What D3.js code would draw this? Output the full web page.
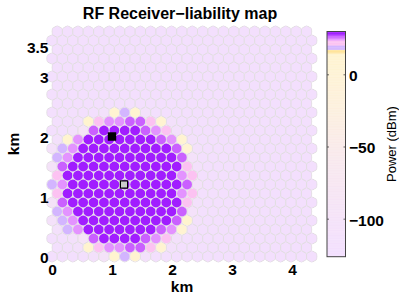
<!DOCTYPE html>
<html lang="en">
<head>
  <meta charset="UTF-8">
  <title>RF Receiver-liability map</title>
  <script src="https://d3js.org/d3.v7.min.js"></script>
  <style>
    html, body { margin: 0; padding: 0; background: #fff; overflow: hidden; }
    text { font-family: "Liberation Sans", Arial, sans-serif; fill: #000; }
    .bold text, text.bold { font-weight: bold; font-size: 15.5px; }
  </style>
</head>
<body>
  <svg id="chart" width="399" height="299"></svg>
  <script>
    // power per hex cell in dBm, rows from y = 0 upward
    const powerRows = [
      [-118,-118,-118,-118,-112,-100,12,18,9,-112,-118,-118,-118,-118,-118,-118,-118,-118,-118,-118,-118,-118,-118,-118,-118,-118],
      [-118,-118,-112,14,21,25,24.5,26,26,21,8,-112,-118,-118,-118,-118,-118,-118,-118,-118,-118,-118,-118,-118,-118],
      [-118,-118,-112,-95,26,29,29,29,29,26,25,21,-110,-118,-118,-118,-118,-118,-118,-118,-118,-118,-118,-118,-118,-118],
      [-112,19,25,29,29,29,29,29,29,29,26,24.5,8,-110,-118,-118,-118,-118,-118,-118,-118,-118,-118,-118,-118],
      [-108,19,24.5,29,29,29,29,29,29,29,29,29,26,14,-112,-118,-118,-118,-118,-118,-118,-118,-118,-118,-118,-118],
      [19,25,29,29,29,29,29,29,29,29,29,29,26,-105,-118,-118,-118,-118,-118,-118,-118,-118,-118,-118,-118],
      [-100,26,29,29,29,29,29,29,29,29,29,29,29,22,-112,-118,-118,-118,-118,-118,-118,-118,-118,-118,-118,-118],
      [22,29,29,29,29,29,29,29,29,29,29,29,24.5,22,-118,-118,-118,-118,-118,-118,-118,-118,-118,-118,-118],
      [19,25,29,29,29,29,29,29,29,29,29,29,29,26,-108,-118,-118,-118,-118,-118,-118,-118,-118,-118,-118,-118],
      [22,29,29,29,29,29,29,29,29,29,29,29,24.5,22,-118,-118,-118,-118,-118,-118,-118,-118,-118,-118,-118],
      [-100,26,29,29,29,29,29,29,29,29,29,29,29,22,-112,-118,-118,-118,-118,-118,-118,-118,-118,-118,-118,-118],
      [19,25,29,29,29,29,29,29,29,29,29,29,26,-105,-118,-118,-118,-118,-118,-118,-118,-118,-118,-118,-118],
      [-108,19,24.5,29,29,29,29,29,29,29,29,29,26,8,-112,-118,-118,-118,-118,-118,-118,-118,-118,-118,-118,-118],
      [-112,14,24.5,29,29,29,29,29,29,29,26,25,8,-110,-118,-118,-118,-118,-118,-118,-118,-118,-118,-118,-118],
      [-118,-118,-112,-95,26,29,29,29,29,26,25,21,-110,-118,-118,-118,-118,-118,-118,-118,-118,-118,-118,-118,-118,-118],
      [-118,-118,-112,14,21,25,24.5,26,26,21,8,-112,-118,-118,-118,-118,-118,-118,-118,-118,-118,-118,-118,-118,-118],
      [-118,-118,-118,-118,-118,-112,8,18,9,-112,-118,-118,-118,-118,-118,-118,-118,-118,-118,-118,-118,-118,-118,-118,-118,-118],
      [-118,-118,-118,-118,-118,-118,-118,-118,-118,-118,-118,-118,-118,-118,-118,-118,-118,-118,-118,-118,-118,-118,-118,-118,-118],
      [-118,-118,-118,-118,-118,-118,-118,-118,-118,-118,-118,-118,-118,-118,-118,-118,-118,-118,-118,-118,-118,-118,-118,-118,-118,-118],
      [-118,-118,-118,-118,-118,-118,-118,-118,-118,-118,-118,-118,-118,-118,-118,-118,-118,-118,-118,-118,-118,-118,-118,-118,-118],
      [-118,-118,-118,-118,-118,-118,-118,-118,-118,-118,-118,-118,-118,-118,-118,-118,-118,-118,-118,-118,-118,-118,-118,-118,-118,-118],
      [-118,-118,-118,-118,-118,-118,-118,-118,-118,-118,-118,-118,-118,-118,-118,-118,-118,-118,-118,-118,-118,-118,-118,-118,-118],
      [-118,-118,-118,-118,-118,-118,-118,-118,-118,-118,-118,-118,-118,-118,-118,-118,-118,-118,-118,-118,-118,-118,-118,-118,-118,-118],
      [-118,-118,-118,-118,-118,-118,-118,-118,-118,-118,-118,-118,-118,-118,-118,-118,-118,-118,-118,-118,-118,-118,-118,-118,-118],
      [-118,-118,-118,-118,-118,-118,-118,-118,-118,-118,-118,-118,-118,-118,-118,-118,-118,-118,-118,-118,-118,-118,-118,-118,-118,-118],
      [-118,-118,-118,-118,-118,-118,-118,-118,-118,-118,-118,-118,-118,-118,-118,-118,-118,-118,-118,-118,-118,-118,-118,-118,-118]
    ];
    const markers = [
      { x: 1.0, y: 2.0, fill: "#000" },
      { x: 1.2, y: 1.2, fill: "#ccc" }
    ];
    const xTicks = [0, 1, 2, 3, 4];
    const yTicks = [0, 1, 2, 3, 3.5];
    const barTicks = [0, -50, -100];
    const barDomain = [-126, 30];
    const colorStops = [-126, -60, -20, 15, 15, 17.5, 17.5, 20.6, 20.6, 24, 24, 25.5, 25.5, 27.6, 27.6, 30];
    const colorValues = ["#f2deff", "#f8e8ee", "#fdf0dc", "#fff4cf", "#ffe49c", "#ffe49c", "#d3b5ff", "#d3b5ff",
      "#fcc2f2", "#fcc2f2", "#e393ff", "#e393ff", "#ca60ff", "#ca60ff", "#a11dff", "#a11dff"];

    const svg = d3.select("#chart");

    const x = d3.scaleLinear().domain([0, 4]).range([52, 292]);
    const y = d3.scaleLinear().domain([0, 3]).range([256.5, 76.5]);
    const barY = d3.scaleLinear().domain(barDomain).range([256.7, 31.5]);
    const color = d3.scaleLinear().domain(colorStops).range(colorValues).clamp(true);

    // hex cells are 0.1 km in radius, pointy side up
    const hexR = 0.1;
    const cells = [];
    powerRows.forEach((row, r) => row.forEach((power, i) => {
      cells.push({
        x: (i + (r % 2 ? 0.5 : 0)) * hexR * Math.sqrt(3),
        y: r * hexR * 1.5,
        power: power
      });
    }));

    const pxR = x(hexR) - x(0);
    const hexPath = "M" + d3.range(6).map(k => {
      const a = Math.PI / 3 * k;
      return [pxR * Math.sin(a), -pxR * Math.cos(a)].join(",");
    }).join("L") + "Z";

    svg.append("defs").append("clipPath").attr("id", "roundCell")
      .append("circle").attr("r", pxR * 0.98);

    const cell = svg.append("g").selectAll("g")
      .data(cells)
      .enter().append("g")
      .attr("transform", d => `translate(${x(d.x)},${y(d.y)})`)
      .attr("clip-path", "url(#roundCell)");

    // hex underlay with its grey outline, round mark on top
    cell.append("path")
      .attr("d", hexPath)
      .attr("fill", d => d.power < 0 ? color(d.power) : "#f6eefa")
      .attr("stroke", "#e0dcdf")
      .attr("stroke-width", 0.9);

    cell.filter(d => d.power > 0).append("circle")
      .attr("r", pxR * 0.82)
      .attr("fill", d => color(d.power));

    svg.append("g").selectAll("rect")
      .data(markers)
      .enter().append("rect")
      .attr("x", d => x(d.x) - 3.6)
      .attr("y", d => y(d.y) - 3.6)
      .attr("width", 7.2)
      .attr("height", 7.2)
      .attr("fill", d => d.fill)
      .attr("stroke", "#000")
      .attr("stroke-width", 1.2);

    // axes
    const xAxis = svg.append("g").attr("class", "bold")
      .attr("transform", "translate(0,261)")
      .call(d3.axisBottom(x).tickValues(xTicks).tickSize(0).tickPadding(3).tickFormat(d3.format("d")));
    xAxis.select(".domain").remove();

    const yAxis = svg.append("g").attr("class", "bold")
      .attr("transform", "translate(48.5,1)")
      .call(d3.axisLeft(y).tickValues(yTicks).tickSize(0).tickPadding(0).tickFormat(d => d));
    yAxis.select(".domain").remove();

    svg.append("text").attr("class", "bold")
      .attr("x", 182).attr("y", 291.5)
      .attr("text-anchor", "middle").text("km");

    svg.append("text").attr("class", "bold")
      .attr("transform", "translate(19,144) rotate(-90)")
      .attr("text-anchor", "middle").text("km");

    svg.append("text")
      .attr("x", 180).attr("y", 18.5)
      .attr("text-anchor", "middle")
      .style("font-weight", "bold").style("font-size", "16px")
      .text("RF Receiver\u2212liability map");

    // colour bar
    const barLeft = 327, barRight = 345.5;
    svg.append("g").selectAll("rect")
      .data(d3.range(barDomain[0], barDomain[1], 0.5))
      .enter().append("rect")
      .attr("x", barLeft)
      .attr("width", barRight - barLeft)
      .attr("y", d => barY(d + 0.5))
      .attr("height", d => barY(d) - barY(d + 0.5) + 0.3)
      .attr("fill", d => color(d + 0.25));

    svg.append("rect")
      .attr("x", barLeft).attr("y", barY.range()[1])
      .attr("width", barRight - barLeft)
      .attr("height", barY.range()[0] - barY.range()[1])
      .attr("fill", "none").attr("stroke", "#444").attr("stroke-width", 1);

    const barAxis = svg.append("g").attr("class", "bold")
      .attr("transform", `translate(${barRight},1)`)
      .call(d3.axisRight(barY).tickValues(barTicks).tickSize(0).tickPadding(3.5).tickFormat(d => String(d).replace("-", "\u2212")));
    barAxis.select(".domain").remove();

    // small inward ticks on both sides of the bar
    svg.append("g").selectAll("path")
      .data(barTicks)
      .enter().append("path")
      .attr("d", d => `M${barLeft},${barY(d)}h2M${barRight},${barY(d)}h-2`)
      .attr("stroke", "#444").attr("stroke-width", 0.8);

    svg.append("text")
      .attr("transform", "translate(396,144) rotate(-90)")
      .attr("text-anchor", "middle")
      .style("font-size", "13px")
      .text("Power (dBm)");
  </script>
</body>
</html>
